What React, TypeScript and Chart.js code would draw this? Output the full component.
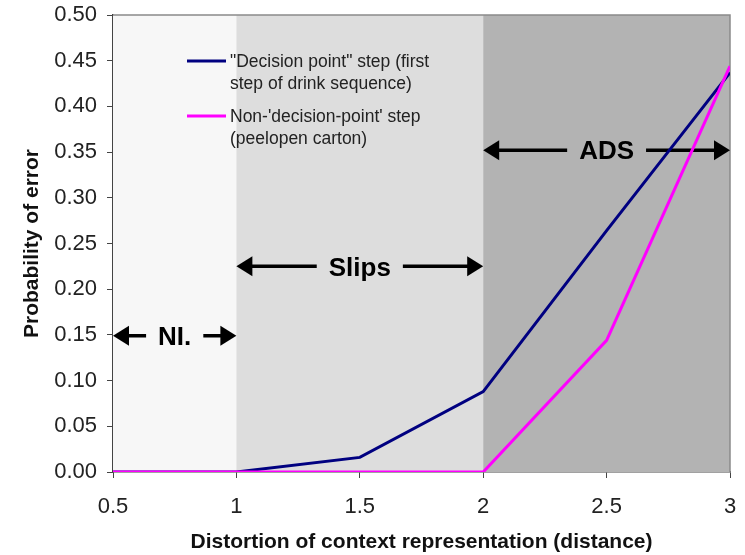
import React, { useEffect, useRef } from "react";
import { Chart, registerables } from "chart.js";

Chart.register(...registerables);

const xValues = [0.5, 1, 1.5, 2, 2.5, 3];
const decisionPoint = [0, 0, 0.016, 0.088, 0.264, 0.437];
const nonDecisionPoint = [0, 0, 0, 0, 0.144, 0.444];

const seriesLabels = [
  ['"Decision point" step (first', "step of drink sequence)"],
  ["Non-'decision-point' step", "(peelopen carton)"],
];
const seriesColors = ["#000080", "#ff00ff"];

// shaded regions
const regionStarts = [0.5, 1, 2];
const regionEnds = [1, 2, 3];
const regionColors = ["#f7f7f7", "#dddddd", "#b3b3b3"];

// annotations
const annLabels = ["NI.", "Slips", "ADS"];
const annFrom = [0.5, 1, 2];
const annTo = [1, 2, 3];
const annY = [0.149, 0.225, 0.352];

const FONT = "'Liberation Sans', Arial, sans-serif";

function drawArrowHead(ctx: CanvasRenderingContext2D, tipX: number, y: number, dir: number) {
  const len = 16;
  const half = 10;
  ctx.beginPath();
  ctx.moveTo(tipX, y);
  ctx.lineTo(tipX - dir * len, y - half);
  ctx.lineTo(tipX - dir * len, y + half);
  ctx.closePath();
  ctx.fill();
}

const decorPlugin = {
  id: "decor",
  beforeDatasetsDraw(chart: any) {
    const { ctx, chartArea, scales } = chart;
    const xs = scales.x;
    ctx.save();
    for (let i = 0; i < regionStarts.length; i++) {
      const x0 = xs.getPixelForValue(regionStarts[i]);
      const x1 = xs.getPixelForValue(regionEnds[i]);
      ctx.fillStyle = regionColors[i];
      ctx.fillRect(x0, chartArea.top, x1 - x0, chartArea.bottom - chartArea.top);
    }
    ctx.strokeStyle = "#8a8a8a";
    ctx.lineWidth = 1.5;
    ctx.beginPath();
    ctx.moveTo(chartArea.left, chartArea.top);
    ctx.lineTo(chartArea.right, chartArea.top);
    ctx.lineTo(chartArea.right, chartArea.bottom);
    ctx.stroke();

    ctx.fillStyle = "#000";
    ctx.strokeStyle = "#000";
    ctx.font = `bold 26px ${FONT}`;
    ctx.textAlign = "center";
    ctx.textBaseline = "middle";
    for (let i = 0; i < annLabels.length; i++) {
      const x0 = xs.getPixelForValue(annFrom[i]);
      const x1 = xs.getPixelForValue(annTo[i]);
      const y = scales.y.getPixelForValue(annY[i]);
      const cx = (x0 + x1) / 2;
      const w = ctx.measureText(annLabels[i]).width;
      const gap = w / 2 + 12;
      ctx.lineWidth = 3.5;
      ctx.beginPath();
      ctx.moveTo(x0 + 10, y);
      ctx.lineTo(cx - gap, y);
      ctx.moveTo(cx + gap, y);
      ctx.lineTo(x1 - 10, y);
      ctx.stroke();
      drawArrowHead(ctx, x0, y, -1);
      drawArrowHead(ctx, x1, y, 1);
      ctx.fillText(annLabels[i], cx, y + 2);
    }
    ctx.restore();
  },
  afterDatasetsDraw(chart: any) {
    const { ctx } = chart;
    ctx.save();
    ctx.font = `17.5px ${FONT}`;
    ctx.textAlign = "left";
    ctx.textBaseline = "middle";
    const lx0 = 187;
    const lx1 = 226;
    const tops = [61, 116];
    for (let i = 0; i < seriesLabels.length; i++) {
      ctx.strokeStyle = seriesColors[i];
      ctx.lineWidth = 3;
      ctx.beginPath();
      ctx.moveTo(lx0, tops[i]);
      ctx.lineTo(lx1, tops[i]);
      ctx.stroke();
      ctx.fillStyle = "#222";
      seriesLabels[i].forEach((t, j) => ctx.fillText(t, 230, tops[i] + 1 + j * 22));
    }
    ctx.restore();
  },
};

export default function App() {
  const ref = useRef<HTMLCanvasElement>(null);
  useEffect(() => {
    document.body.style.margin = "0";
    const chart = new Chart(ref.current!, {
      type: "line",
      data: {
        datasets: [
          {
            label: seriesLabels[1].join(" "),
            data: xValues.map((x, i) => ({ x, y: nonDecisionPoint[i] })),
            borderColor: seriesColors[1],
            borderWidth: 3,
            pointRadius: 0,
            tension: 0,
            order: 0,
          },
          {
            label: seriesLabels[0].join(" "),
            data: xValues.map((x, i) => ({ x, y: decisionPoint[i] })),
            borderColor: seriesColors[0],
            borderWidth: 3,
            pointRadius: 0,
            tension: 0,
            order: 1,
          },
        ],
      },
      options: {
        responsive: false,
        animation: false,
        layout: { padding: { top: 15, right: 15, left: 0, bottom: 0 } },
        plugins: { legend: { display: false }, tooltip: { enabled: false } },
        scales: {
          x: {
            type: "linear",
            min: 0.5,
            max: 3,
            afterFit: (s: any) => {
              s.height = 83;
              s.paddingLeft = 0;
              s.paddingRight = 0;
            },
            ticks: {
              stepSize: 0.5,
              color: "#222",
              font: { family: FONT, size: 22 },
              padding: 16,
              callback: (v: any) => String(v),
            },
            grid: { drawOnChartArea: false, drawTicks: true, tickLength: 6, color: "#444" },
            border: { display: true, color: "#444", width: 1.5 },
            title: {
              display: true,
              text: "Distortion of context representation (distance)",
              color: "#111",
              font: { family: FONT, size: 21, weight: "bold" },
              padding: { top: 0, bottom: 0 },
            },
          },
          y: {
            min: 0,
            max: 0.5,
            afterFit: (s: any) => {
              s.width = 113;
              s.paddingTop = 0;
              s.paddingBottom = 0;
            },
            ticks: {
              stepSize: 0.05,
              color: "#222",
              font: { family: FONT, size: 22 },
              padding: 10,
              callback: (v: any) => Number(v).toFixed(2),
            },
            grid: { drawOnChartArea: false, drawTicks: true, tickLength: 6, color: "#444" },
            border: { display: true, color: "#444", width: 1.5 },
            title: {
              display: true,
              text: "Probability of error",
              color: "#111",
              font: { family: FONT, size: 21, weight: "bold" },
              padding: { top: 20, bottom: 0 },
            },
          },
        },
      },
      plugins: [decorPlugin],
    });
    return () => chart.destroy();
  }, []);
  return (
    <div style={{ width: 745, height: 555 }}>
      <canvas ref={ref} width={745} height={555} />
    </div>
  );
}
